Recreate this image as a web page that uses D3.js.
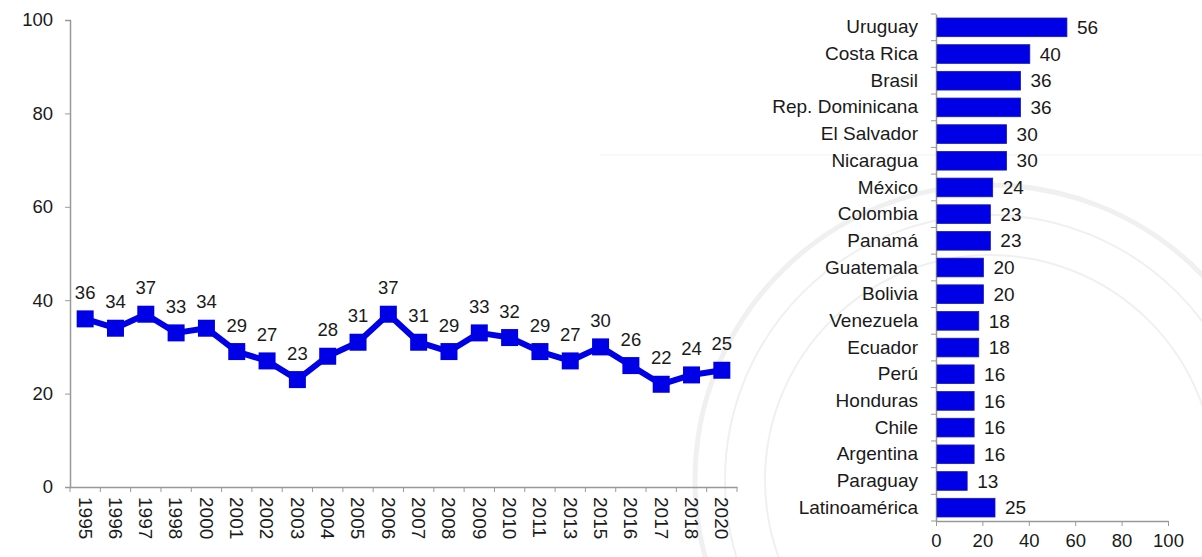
<!DOCTYPE html>
<html>
<head>
<meta charset="utf-8">
<script src="https://cdn.jsdelivr.net/npm/d3@7"></script>
<style>
  body { margin: 0; background: #fff; }
  svg { font-family: "Liberation Sans", Arial, sans-serif; }
</style>
</head>
<body>
<div id="chart"></div>
<script>
const width = 1202;
const height = 557;

// line chart data
const years = ["1995","1996","1997","1998","2000","2001","2002","2003","2004","2005","2006",
  "2007","2008","2009","2010","2011","2013","2015","2016","2017","2018","2020"];
const yearValues = [36,34,37,33,34,29,27,23,28,31,37,31,29,33,32,29,27,30,26,22,24,25];

// bar chart data
const countries = ["Uruguay","Costa Rica","Brasil","Rep. Dominicana","El Salvador","Nicaragua",
  "México","Colombia","Panamá","Guatemala","Bolivia","Venezuela","Ecuador","Perú","Honduras",
  "Chile","Argentina","Paraguay","Latinoamérica"];
const countryValues = [56,40,36,36,30,30,24,23,23,20,20,18,18,16,16,16,16,13,25];

const axisTicks = [0,20,40,60,80,100];

const blue = "#0000e6";
const axisColor = "#999";
const textColor = "#1a1a1a";

const svg = d3.select("#chart")
  .append("svg")
    .attr("width", width)
    .attr("height", height);

// faint watermark behind the bar chart
const wm = svg.append("g").attr("fill", "none").attr("stroke", "#f0f0f0");
wm.append("circle").attr("cx", 990).attr("cy", 480).attr("r", 295).attr("stroke-width", 5);
wm.append("circle").attr("cx", 990).attr("cy", 480).attr("r", 265).attr("stroke-width", 2);
wm.append("circle").attr("cx", 990).attr("cy", 480).attr("r", 225).attr("stroke-width", 2);
svg.append("line")
  .attr("x1", 600).attr("x2", 1202).attr("y1", 155).attr("y2", 155)
  .attr("stroke", "#f2f2f2");

// ---------- left: line chart ----------
const x = d3.scaleBand().domain(years).range([70, 737]);
const y = d3.scaleLinear().domain([0, 100]).range([487, 20]);

const yAxis = svg.append("g")
  .attr("transform", "translate(70,0)")
  .call(d3.axisLeft(y).tickValues(axisTicks).tickSize(5).tickPadding(12));
yAxis.select(".domain").attr("stroke", axisColor).attr("stroke-width", 1.5);
yAxis.selectAll(".tick line").attr("stroke", axisColor);
yAxis.selectAll("text").attr("font-size", 18.5).attr("fill", textColor);

const xAxis = svg.append("g")
  .attr("transform", "translate(0,487)")
  .call(d3.axisBottom(x).tickSize(0).tickSizeOuter(0).tickPadding(0));
xAxis.select(".domain").attr("stroke", axisColor).attr("stroke-width", 1.5);
xAxis.selectAll("text")
  .attr("font-size", 19)
  .attr("fill", textColor)
  .attr("text-anchor", "start")
  .attr("transform", "rotate(90)")
  .attr("x", 10)
  .attr("y", 0)
  .attr("dy", "0.35em");

// boundary ticks between categories
svg.append("g")
  .selectAll("line")
  .data(years.concat(["end"]))
  .join("line")
    .attr("x1", (d, i) => x.range()[0] + i * x.step())
    .attr("x2", (d, i) => x.range()[0] + i * x.step())
    .attr("y1", 487).attr("y2", 492)
    .attr("stroke", axisColor);

const pts = years.map((d, i) => ({year: d, value: yearValues[i]}));

svg.append("path")
  .datum(pts)
  .attr("fill", "none")
  .attr("stroke", blue)
  .attr("stroke-width", 6)
  .attr("stroke-linejoin", "round")
  .attr("d", d3.line()
    .x(d => x(d.year) + x.bandwidth() / 2)
    .y(d => y(d.value)));

svg.selectAll(".marker")
  .data(pts)
  .join("rect")
    .attr("class", "marker")
    .attr("x", d => x(d.year) + x.bandwidth() / 2 - 8.5)
    .attr("y", d => y(d.value) - 8.5)
    .attr("width", 17)
    .attr("height", 17)
    .attr("fill", blue);

svg.selectAll(".ptlabel")
  .data(pts)
  .join("text")
    .attr("class", "ptlabel")
    .attr("x", d => x(d.year) + x.bandwidth() / 2)
    .attr("y", d => y(d.value) - 20)
    .attr("text-anchor", "middle")
    .attr("font-size", 18.5)
    .attr("fill", textColor)
    .text(d => d.value);

// ---------- right: bar chart ----------
const bx = d3.scaleLinear().domain([0, 100]).range([936, 1168]);
const by = d3.scaleBand().domain(countries).range([14, 521]).paddingInner(0.3).paddingOuter(0.15);

const bxAxis = svg.append("g")
  .attr("transform", "translate(0,521)")
  .call(d3.axisBottom(bx).tickValues(axisTicks).tickSize(5).tickSizeOuter(0).tickPadding(8));
bxAxis.select(".domain").attr("stroke", axisColor).attr("stroke-width", 1.5);
bxAxis.selectAll(".tick line").attr("stroke", axisColor);
bxAxis.selectAll("text").attr("font-size", 18.5).attr("fill", textColor);

const byAxis = svg.append("g")
  .attr("transform", "translate(936,0)")
  .call(d3.axisLeft(by).tickSize(0).tickSizeOuter(0).tickPadding(18));
byAxis.select(".domain").attr("stroke", axisColor).attr("stroke-width", 1.5);
byAxis.selectAll("text").attr("font-size", 19).attr("fill", textColor);

svg.append("g")
  .selectAll("line")
  .data(countries.concat(["end"]))
  .join("line")
    .attr("x1", 931).attr("x2", 936)
    .attr("y1", (d, i) => by.range()[0] + i * by.step())
    .attr("y2", (d, i) => by.range()[0] + i * by.step())
    .attr("stroke", axisColor);

const bars = countries.map((d, i) => ({name: d, value: countryValues[i]}));

svg.selectAll(".bar")
  .data(bars)
  .join("rect")
    .attr("class", "bar")
    .attr("x", bx(0) + 1)
    .attr("y", d => by(d.name))
    .attr("width", d => bx(d.value) - bx(0))
    .attr("height", by.bandwidth())
    .attr("fill", blue)
    .attr("stroke", "#1a1ab0")
    .attr("stroke-width", 0.8);

svg.selectAll(".barlabel")
  .data(bars)
  .join("text")
    .attr("class", "barlabel")
    .attr("x", d => bx(d.value) + 11)
    .attr("y", d => by(d.name) + by.bandwidth() / 2)
    .attr("dy", "0.35em")
    .attr("font-size", 19)
    .attr("fill", textColor)
    .text(d => d.value);
</script>
</body>
</html>
